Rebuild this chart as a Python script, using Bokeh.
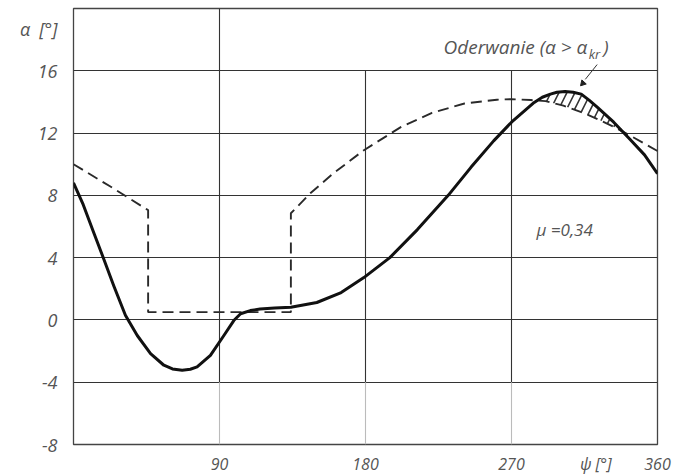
import numpy as np
from bokeh.plotting import figure
from bokeh.models import FixedTicker, Grid
from bokeh.core.properties import value
from bokeh.embed import file_html
from bokeh.resources import INLINE

# --- data ---
psi_solid = [0, 6, 12.5, 18.7, 24.8, 32, 39.3, 47.5, 55.7, 61, 67, 72, 76.2, 84.4, 92.7,
             98.8, 103, 109, 115, 124, 134, 150, 165, 179, 195, 212, 231, 245, 259, 270,
             284, 289, 294, 298, 303, 308, 313, 318, 323, 333, 343, 352, 360]
alpha_solid = [8.8, 7.4, 5.6, 3.9, 2.2, 0.3, -1.0, -2.17, -2.91, -3.15, -3.23, -3.17, -3.02,
               -2.28, -1.0, -0.04, 0.4, 0.6, 0.7, 0.76, 0.82, 1.12, 1.76, 2.72, 4.0, 5.8,
               8.0, 9.8, 11.5, 12.7, 13.97, 14.3, 14.5, 14.62, 14.67, 14.62, 14.5, 14.1,
               13.65, 12.7, 11.6, 10.6, 9.4]

psi_dash = [0, 23, 46, 46, 134, 134, 146, 160, 179, 202, 221, 241, 261, 270, 282, 291,
            302, 313, 323, 333, 343, 351, 360]
alpha_dash = [10.0, 8.55, 7.05, 0.5, 0.5, 6.85, 8.13, 9.4, 10.9, 12.4, 13.3, 13.9, 14.14,
              14.18, 14.12, 14.05, 13.76, 13.35, 12.9, 12.4, 11.85, 11.38, 10.85]

x_ticks = [90, 180, 270, 322, 360]
x_labels = ["90", "180", "270", "ψ [°]", "360"]
y_ticks = [-8, -4, 0, 4, 8, 12, 16, 18.66]
y_labels = ["-8", "-4", "0", "4", "8", "12", "16", "α\u2002[°]"]

grid_x = [90, 180, 270]
grid_y = [-4, 0, 4, 8, 12, 16]

separation_range = (284, 342)
mu_text = "μ =0,34"

FONT = "Open Sans"
TXT = "#555555"

p = figure(frame_width=584, frame_height=436, x_range=(0, 360), y_range=(-8, 20),
           output_backend="svg", toolbar_location=None,
           min_border_left=73, min_border_right=26, min_border_top=8, min_border_bottom=0,
           background_fill_color="white", border_fill_color="white")
p.outline_line_color = "#444444"
p.outline_line_width = 1.3
p.xgrid.visible = False
p.ygrid.visible = False

# horizontal grid lines
hg = Grid(dimension=1, ticker=FixedTicker(ticks=grid_y), grid_line_color="#333333",
          grid_line_width=1.1)
p.add_layout(hg)

# vertical grid lines (partial heights as in the drawing)
p.segment(x0=grid_x, y0=[-4] * 3, x1=grid_x, y1=[20, 16, 16], color="#333333", line_width=1.1)
p.segment(x0=grid_x, y0=[-8] * 3, x1=grid_x, y1=[-4] * 3, color="#bbbbbb", line_width=1.1)

# axes
for ax in (p.xaxis[0], p.yaxis[0]):
    ax.axis_line_color = None
    ax.major_tick_line_color = None
    ax.minor_tick_line_color = None
    ax.major_label_text_font = FONT
    ax.major_label_text_font_style = "italic"
    ax.major_label_text_color = TXT

p.xaxis.ticker = FixedTicker(ticks=x_ticks)
p.xaxis.major_label_overrides = {t: l for t, l in zip(x_ticks, x_labels)}
p.xaxis.major_label_text_font_size = "16px"
p.xaxis.major_label_standoff = 2

p.yaxis.ticker = FixedTicker(ticks=y_ticks)
p.yaxis.major_label_overrides = {t: l for t, l in zip(y_ticks, y_labels)}
p.yaxis.major_label_text_font_size = "18px"
p.yaxis.major_label_standoff = 10

# hatched separation zone between the curves
xs = np.array(sorted(set([x for x in psi_solid + psi_dash
                          if separation_range[0] <= x <= separation_range[1]]
                         + list(separation_range))), dtype=float)
ys = np.interp(xs, psi_solid, alpha_solid)
yd = np.interp(xs, psi_dash[-12:], alpha_dash[-12:])
p.varea(x=xs, y1=yd, y2=np.maximum(ys, yd), fill_alpha=0, hatch_pattern="/",
        hatch_color="#333333", hatch_scale=16, hatch_weight=1.6)

# curves
p.line(psi_dash, alpha_dash, color="#2a2a2a", line_width=1.9, line_dash="11 6")
p.line(psi_solid, alpha_solid, color="#111111", line_width=3, line_join="round")

# annotations
p.text(x=[316.8], y=[17.55], text=["Oderwanie (α > α"], text_font=value(FONT),
       text_font_style="italic", text_font_size="19px", text_color=TXT,
       text_align="right", text_baseline="middle")
p.text(x=[317.6], y=[17.05], text=["kr"], text_font=value(FONT),
       text_font_style="italic", text_font_size="13px", text_color=TXT,
       text_align="left", text_baseline="middle")
p.text(x=[326.5], y=[17.55], text=[")"], text_font=value(FONT),
       text_font_style="italic", text_font_size="19px", text_color=TXT,
       text_align="left", text_baseline="middle")
p.segment(x0=[322.8], y0=[16.4], x1=[315.5], y1=[15.45], color="#333333", line_width=1)
p.scatter(x=[314.0], y=[15.2], marker="triangle", size=6, angle=2.4,
          color="#222222")
p.text(x=[285.4], y=[5.8], text=[mu_text], text_font=value(FONT),
       text_font_style="italic", text_font_size="17px", text_color=TXT,
       text_align="left", text_baseline="middle")

open("out.html", "w").write(file_html(p, INLINE))
